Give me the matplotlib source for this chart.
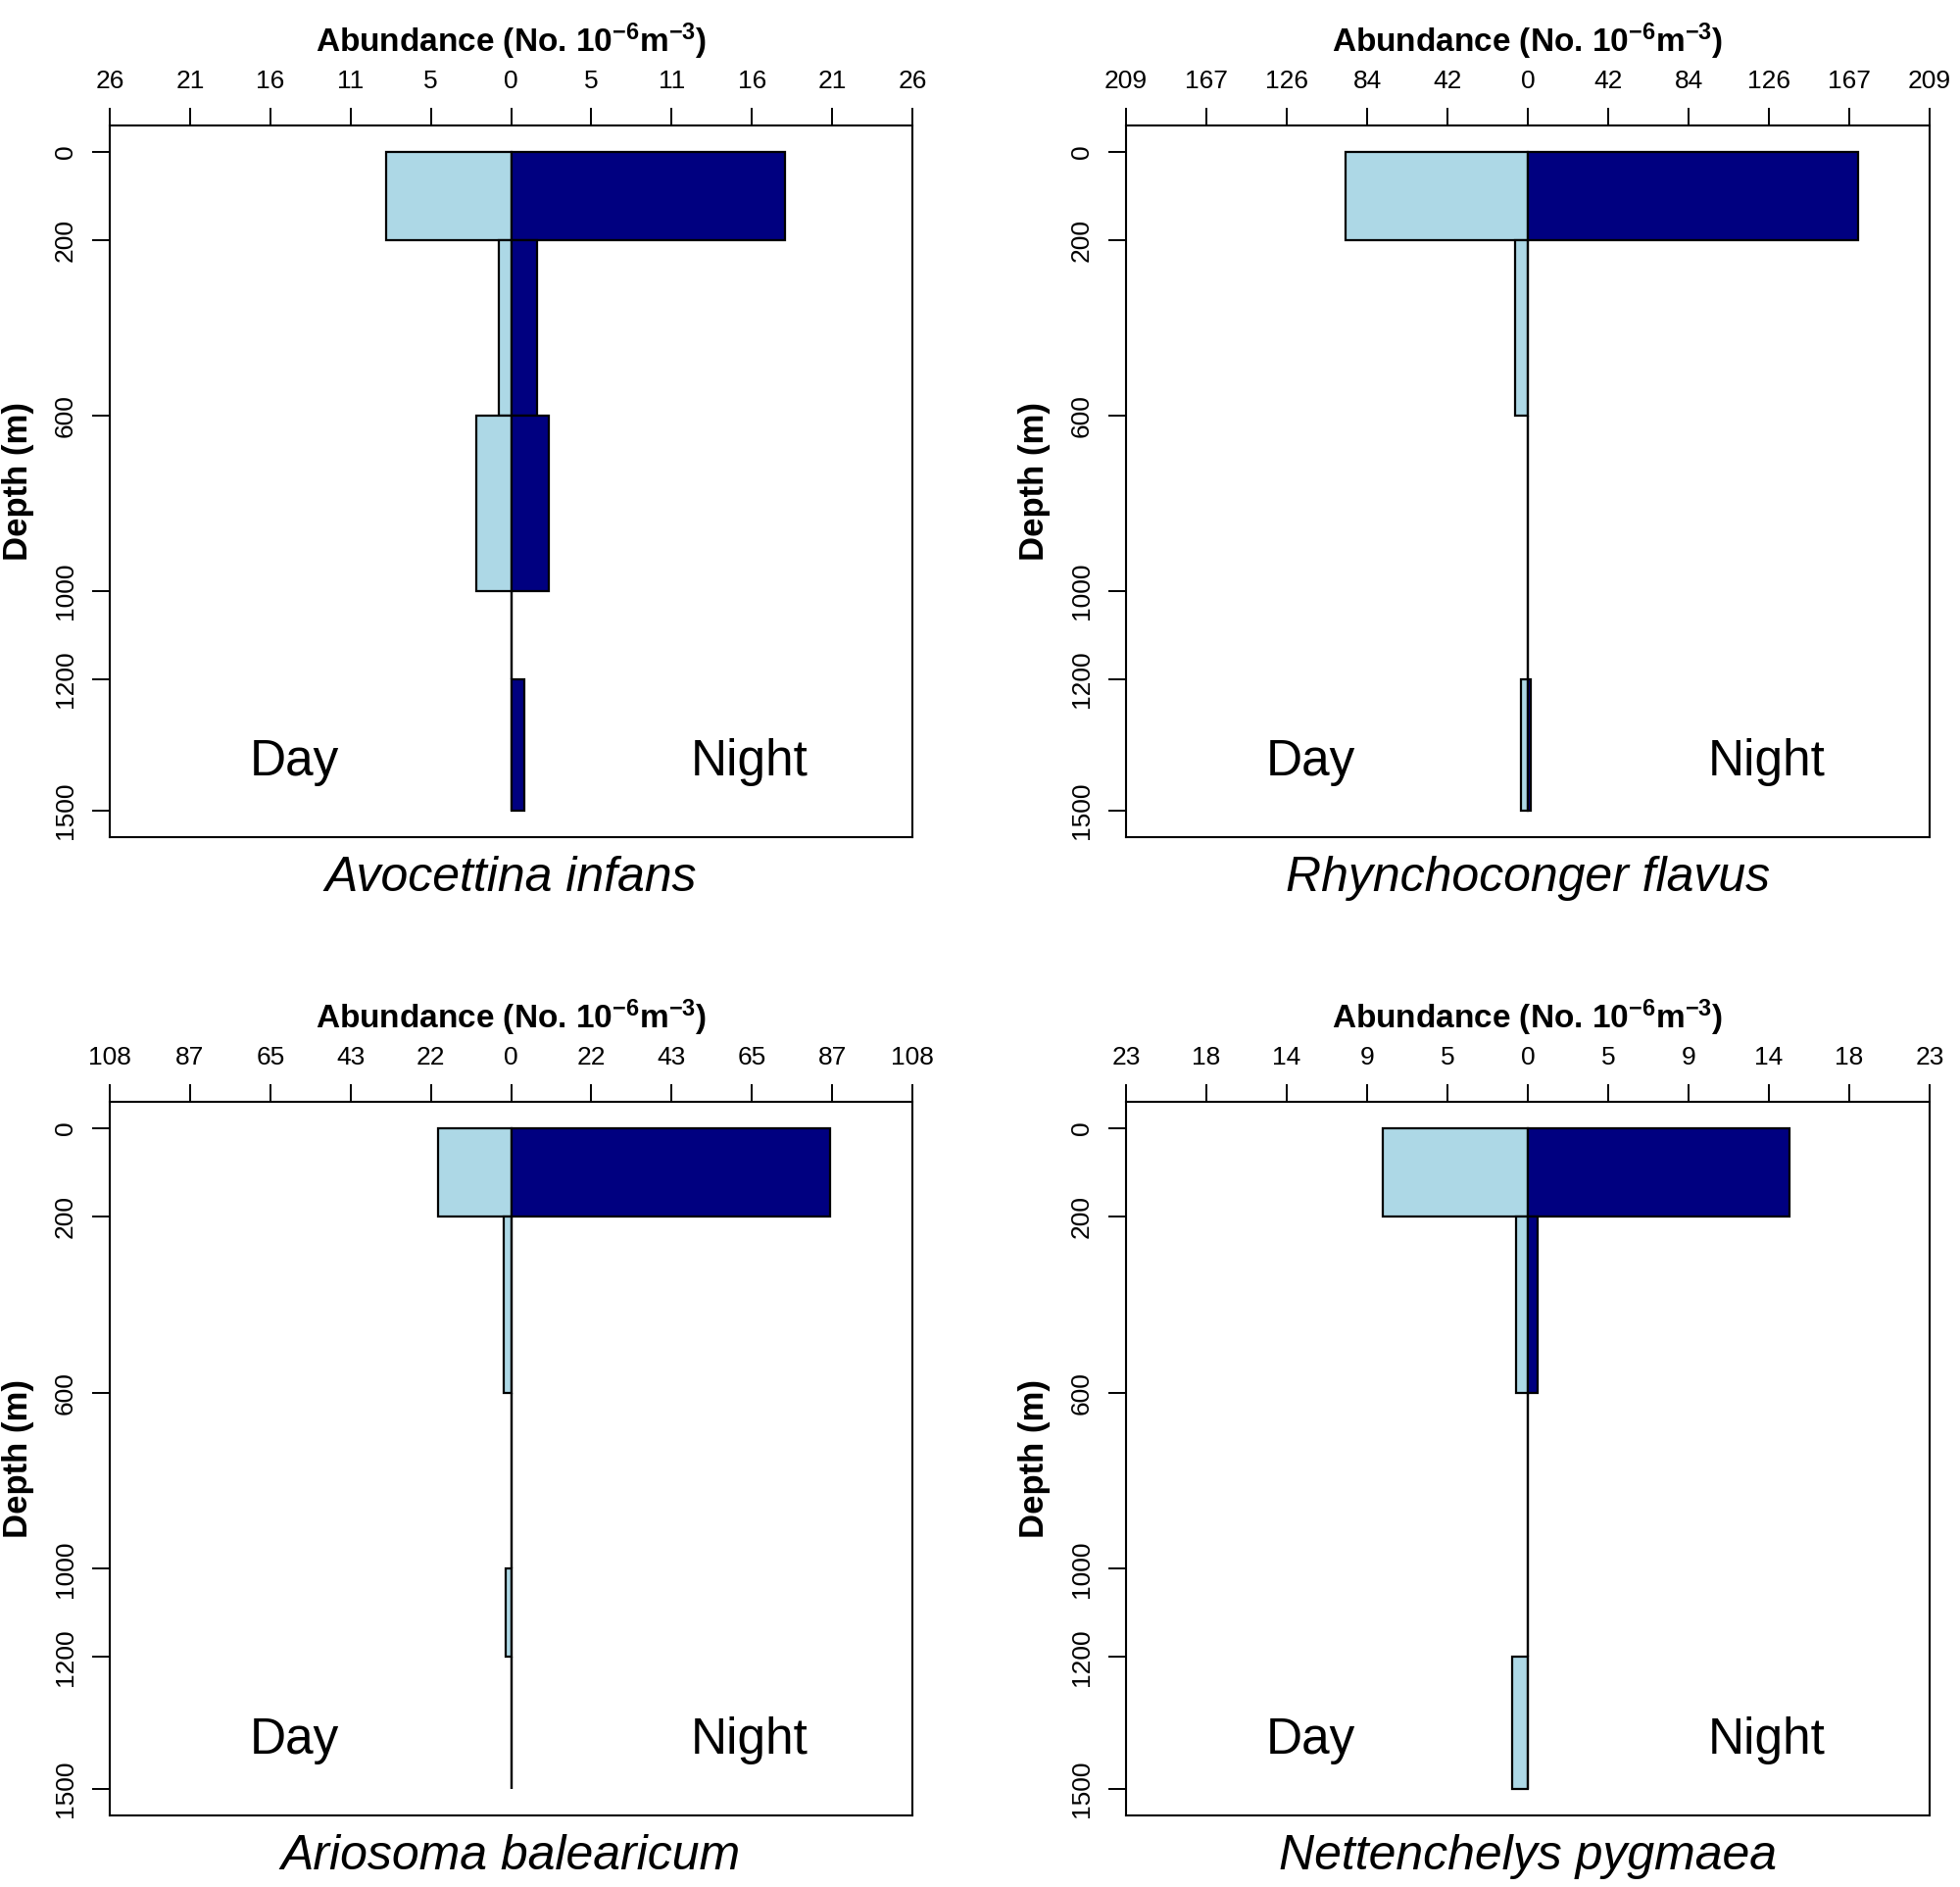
import matplotlib
matplotlib.use("Agg")
import matplotlib.pyplot as plt
import numpy as np

plt.rcParams['font.family'] = ['Liberation Sans', 'DejaVu Sans']
plt.rcParams['mathtext.fontset'] = 'custom'
plt.rcParams['mathtext.rm'] = 'Liberation Sans:bold'
plt.rcParams['mathtext.it'] = 'Liberation Sans:bold'
plt.rcParams['mathtext.bf'] = 'Liberation Sans:bold'

# depth strata (m)
layerTop = [0, 200, 600, 1000, 1200]
layerBottom = [200, 600, 1000, 1200, 1500]
depthTicks = [0, 200, 600, 1000, 1200, 1500]

species = ["Avocettina infans", "Rhynchoconger flavus",
           "Ariosoma balearicum", "Nettenchelys pygmaea"]

# abundance (No. 10^-6 m^-3) per stratum
dayAvocettina = [8.2, 0.8, 2.3, 0.0, 0.0]
nightAvocettina = [18.0, 1.7, 2.5, 0.0, 0.9]
dayRhynchoconger = [95.0, 6.5, 0.0, 0.0, 3.6]
nightRhynchoconger = [172.0, 0.0, 0.0, 0.0, 1.3]
dayAriosoma = [19.8, 2.1, 0.0, 1.5, 0.0]
nightAriosoma = [86.0, 0.0, 0.0, 0.0, 0.0]
dayNettenchelys = [8.2, 0.66, 0.0, 0.0, 0.9]
nightNettenchelys = [14.8, 0.54, 0.0, 0.0, 0.0]

dayList = [dayAvocettina, dayRhynchoconger, dayAriosoma, dayNettenchelys]
nightList = [nightAvocettina, nightRhynchoconger, nightAriosoma, nightNettenchelys]

# symmetric axis range and the printed tick labels of each panel
axisMax = [26.4, 209.2, 108.3, 22.7]
tickLabels = [
    ["26", "21", "16", "11", "5", "0", "5", "11", "16", "21", "26"],
    ["209", "167", "126", "84", "42", "0", "42", "84", "126", "167", "209"],
    ["108", "87", "65", "43", "22", "0", "22", "43", "65", "87", "108"],
    ["23", "18", "14", "9", "5", "0", "5", "9", "14", "18", "23"],
]

fig = plt.figure(figsize=(20, 19.25), dpi=100)

# axes boxes in figure fractions (left, bottom, width, height)
boxes = [
    [0.056, 0.5564, 0.4095, 0.3771],
    [0.5745, 0.5564, 0.4100, 0.3771],
    [0.056, 0.0379, 0.4095, 0.3782],
    [0.5745, 0.0379, 0.4100, 0.3782],
]

heights = np.array(layerBottom) - np.array(layerTop)

for i in range(4):
    ax = fig.add_axes(boxes[i])
    xm = axisMax[i]
    day = np.array(dayList[i])
    night = np.array(nightList[i])

    ax.barh(layerTop, -day, height=heights, align='edge',
            color='#ADD8E6', edgecolor='black', linewidth=1.6)
    ax.barh(layerTop, night, height=heights, align='edge',
            color='#000080', edgecolor='black', linewidth=1.6)

    ax.set_xlim(-xm, xm)
    ax.set_ylim(1560, -60)

    ax.xaxis.tick_top()
    ax.set_xticks(np.linspace(-xm, xm, 11))
    ax.set_xticklabels(tickLabels[i])
    ax.set_yticks(depthTicks)
    ax.set_yticklabels([str(d) for d in depthTicks], rotation=90, va='center')
    ax.tick_params(axis='both', direction='out', length=13, width=1.4,
                   labelsize=19, pad=11)

    for sp in ax.spines.values():
        sp.set_linewidth(1.5)

    ax.text(0.5, 1.103, "Abundance (No. 10$^{-6}$m$^{-3}$)", transform=ax.transAxes,
            ha='center', va='baseline', fontsize=24, fontweight='bold')
    ax.text(-0.1136, 0.5, "Depth (m)", transform=ax.transAxes, rotation=90,
            ha='center', va='center', fontsize=25, fontweight='bold')

    ax.text(-0.54 * xm, 1420, "Day", ha='center', va='baseline', fontsize=37)
    ax.text(0.595 * xm, 1420, "Night", ha='center', va='baseline', fontsize=37)

    ax.text(0.5, -0.076, species[i], transform=ax.transAxes, ha='center',
            va='baseline', fontsize=36, style='italic')

fig.savefig("out.png", dpi=100)
